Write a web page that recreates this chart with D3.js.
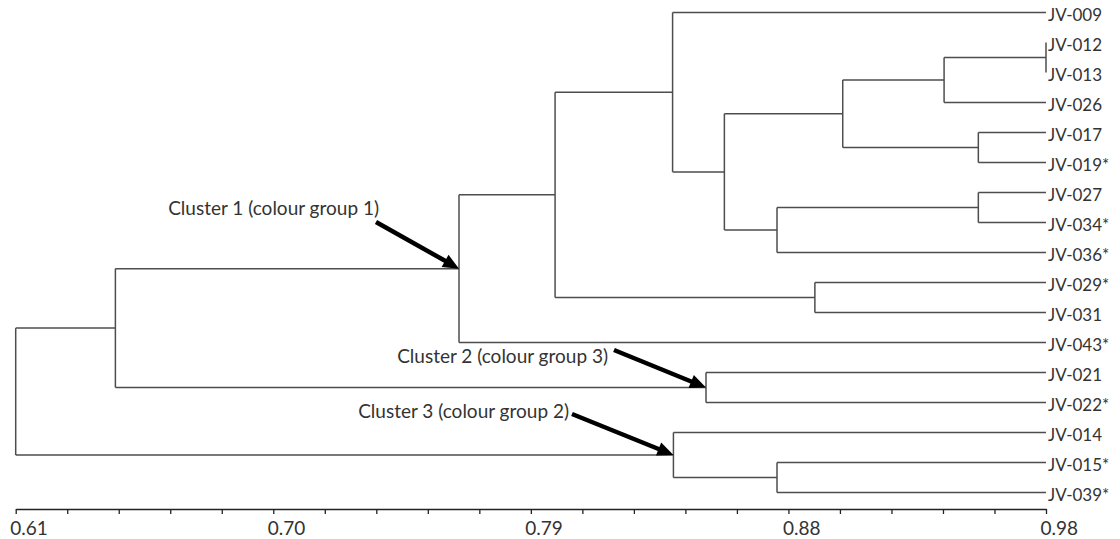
<!DOCTYPE html>
<html>
<head>
<meta charset="utf-8">
<script src="https://cdn.jsdelivr.net/npm/d3@7"></script>
<style>
  html, body { margin: 0; padding: 0; background: #fff; }
  svg { display: block; }
  text { font-family: Lato, "Noto Sans", sans-serif; fill: #333; }
</style>
</head>
<body>
<svg id="chart" width="1120" height="539"></svg>
<script>
// Isolates, top to bottom
const leaves = ["JV-009", "JV-012", "JV-013", "JV-026", "JV-017", "JV-019*",
  "JV-027", "JV-034*", "JV-036*", "JV-029*", "JV-031", "JV-043*",
  "JV-021", "JV-022*", "JV-014", "JV-015*", "JV-039*"];

// Agglomeration steps: "#k" refers to the cluster formed at step k
const mergeA = ["JV-012", "#0", "JV-017", "#1", "JV-027", "#4", "#3", "JV-009",
  "JV-029*", "#7", "#9", "JV-021", "#10", "JV-015*", "JV-014", "#12"];
const mergeB = ["JV-013", "JV-026", "JV-019*", "#2", "JV-034*", "JV-036*", "#5", "#6",
  "JV-031", "#8", "JV-043*", "JV-022*", "#11", "JV-039*", "#13", "#14"];
const mergeSimilarity = [0.980, 0.9434, 0.9557, 0.9070, 0.9557, 0.8834, 0.8645, 0.8459,
  0.8970, 0.8037, 0.7692, 0.8579, 0.6458, 0.8834, 0.8462, 0.610];

// Axis
const axisDomain = [0.61, 0.98];
const majorTicks = [0.61, 0.7025, 0.795, 0.8875, 0.98];
const tickLabels = ["0.61", "0.70", "0.79", "0.88", "0.98"];
const minorPerMajor = 5;

// Cluster annotations: text and the merge step they point at
const noteText = ["Cluster 1 (colour group 1)", "Cluster 2 (colour group 3)", "Cluster 3 (colour group 2)"];
const noteStep = [10, 11, 14];

// ---- layout ----
const svg = d3.select("#chart");
const x = d3.scaleLinear().domain(axisDomain).range([15.7, 1046]);
const y = d3.scalePoint().domain(leaves).range([12.5, 492.5]);
const axisY = 509;

// build the tree from the merge steps
const steps = mergeA.map((a, i) => ({ id: "#" + i, sim: mergeSimilarity[i], kids: [a, mergeB[i]] }));
function resolve(ref) {
  if (ref.startsWith("#")) {
    const s = steps[+ref.slice(1)];
    return { name: s.id, sim: s.sim, children: s.kids.map(resolve) };
  }
  return { name: ref, sim: axisDomain[1] };
}
const root = d3.hierarchy(resolve("#" + (steps.length - 1)));
root.eachAfter(n => {
  n.px = x(n.data.sim);
  n.py = n.children ? d3.mean(n.children, c => c.py) : y(n.data.name);
});

const g = svg.append("g")
  .attr("fill", "none")
  .attr("stroke", "#4d4d4d")
  .attr("stroke-width", 1.5);

root.each(n => {
  if (!n.children) return;
  const ys = n.children.map(c => c.py);
  g.append("line")
    .attr("x1", n.px).attr("x2", n.px)
    .attr("y1", d3.min(ys)).attr("y2", d3.max(ys));
  n.children.forEach(c => {
    g.append("line")
      .attr("x1", n.px).attr("x2", c.px)
      .attr("y1", c.py).attr("y2", c.py);
  });
});

// leaf labels
svg.append("g").selectAll("text")
  .data(root.leaves())
  .join("text")
  .attr("x", d => d.px + 2)
  .attr("y", d => d.py + 8)
  .attr("font-size", 17)
  .text(d => d.data.name);

// bottom axis with minor ticks
const step = (axisDomain[1] - axisDomain[0]) / ((majorTicks.length - 1) * minorPerMajor);
const minorTicks = d3.range((majorTicks.length - 1) * minorPerMajor + 1).map(i => axisDomain[0] + i * step);
const axisG = svg.append("g").attr("transform", `translate(0,${axisY})`);
axisG.call(d3.axisBottom(x).tickValues(minorTicks).tickSize(5).tickSizeOuter(0).tickFormat(""));
axisG.select(".domain").attr("stroke", "#222").attr("stroke-width", 1.6);
axisG.selectAll(".tick line").attr("stroke", "#222").attr("stroke-width", 1.3);
axisG.selectAll(".tick text").remove();
axisG.append("g")
  .attr("text-anchor", "start")
  .selectAll("text")
  .data(majorTicks)
  .join("text")
  .attr("x", (d) => x(d) - 5.5)
  .attr("y", 26)
  .attr("font-size", 19)
  .text((d, i) => tickLabels[i]);

// annotations with heavy arrows
const notePos = [
  { tx: 379, ty: 215, ax: 376, ay: 222 },
  { tx: 608, ty: 363, ax: 614, ay: 350 },
  { tx: 569, ty: 418, ax: 572, ay: 414 }
];
const stepNodes = {};
root.each(n => { if (n.children) stepNodes[n.data.name] = n; });

noteText.forEach((t, i) => {
  const p = notePos[i];
  const node = stepNodes["#" + noteStep[i]];
  const tipX = node.px, tipY = node.py;
  svg.append("text")
    .attr("x", p.tx).attr("y", p.ty)
    .attr("text-anchor", "end")
    .attr("font-size", 19)
    .text(t);
  const dx = tipX - p.ax, dy = tipY - p.ay;
  const len = Math.hypot(dx, dy);
  const ux = dx / len, uy = dy / len;
  const headLen = 16, headHalf = 7;
  const bx = tipX - ux * headLen, by = tipY - uy * headLen;
  svg.append("line")
    .attr("x1", p.ax).attr("y1", p.ay)
    .attr("x2", bx + ux * 2).attr("y2", by + uy * 2)
    .attr("stroke", "#000").attr("stroke-width", 4.5);
  svg.append("path")
    .attr("d", `M${tipX},${tipY}L${bx - uy * headHalf},${by + ux * headHalf}L${bx + uy * headHalf},${by - ux * headHalf}Z`)
    .attr("fill", "#000");
});
</script>
</body>
</html>
